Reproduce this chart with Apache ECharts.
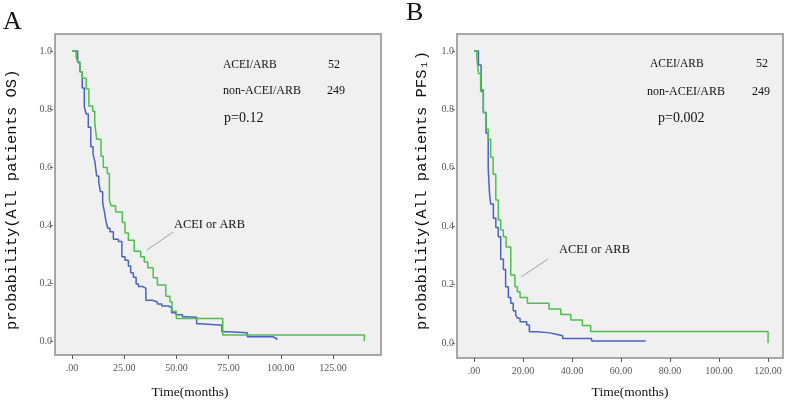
<!DOCTYPE html>
<html><head><meta charset="utf-8">
<script src="https://cdn.jsdelivr.net/npm/echarts@6/dist/echarts.min.js"></script>
<style>html,body{margin:0;padding:0;background:#fff;} #c{width:787px;height:401px;}</style>
</head><body><div id="c"></div>
<script>
// ---- Panel A: overall survival (OS) ----
const osAceiTime = [0, 1.9, 2.7, 3.8, 4.9, 6.8, 8.1, 9.9, 10.9, 11.8, 13.9, 15.0, 16.9, 17.9, 18.7, 20.9, 24.1, 25.4, 27.0, 29.8, 32.9, 34.6, 36.3, 38.9, 40.9, 44.9, 46.9, 47.9, 50.0, 72.2, 140];
const osAceiSurv = [1.0, 0.981, 0.963, 0.929, 0.906, 0.869, 0.811, 0.793, 0.754, 0.696, 0.637, 0.599, 0.578, 0.486, 0.467, 0.445, 0.409, 0.373, 0.348, 0.310, 0.291, 0.273, 0.253, 0.218, 0.193, 0.155, 0.136, 0.103, 0.078, 0.021, 0];
const osNonTime = [0, 2.7, 3.0, 3.8, 4.9, 5.9, 6.8, 7.8, 9.0, 10.1, 11.0, 11.8, 12.8, 13.6, 14.7, 15.5, 16.3, 17.1, 18.2, 19.8, 22.2, 23.9, 25.4, 27.0, 28.1, 29.4, 30.7, 31.8, 33.9, 35.4, 38.5, 40.9, 43.0, 46.1, 47.7, 49.8, 52.9, 54.9, 59.7, 61.8, 71.8, 74.9, 84.0, 96.1, 98.0];
const osNonSurv = [1.0, 0.963, 0.957, 0.929, 0.873, 0.808, 0.783, 0.737, 0.670, 0.644, 0.618, 0.569, 0.549, 0.515, 0.476, 0.447, 0.412, 0.389, 0.377, 0.351, 0.343, 0.291, 0.279, 0.259, 0.236, 0.220, 0.197, 0.188, 0.182, 0.141, 0.135, 0.128, 0.121, 0.116, 0.098, 0.091, 0.084, 0.082, 0.060, 0.055, 0.032, 0.029, 0.015, 0.009, 0.004];

// ---- Panel B: progression-free survival (PFS1) ----
const pfsAceiTime = [0, 1.1, 1.8, 2.7, 3.8, 4.9, 5.8, 6.8, 7.8, 8.9, 9.9, 10.9, 12.0, 13.1, 15.0, 16.7, 17.7, 18.8, 21.8, 30.6, 35.4, 39.5, 44.2, 47.6, 120];
const pfsAceiSurv = [1.0, 0.981, 0.923, 0.861, 0.789, 0.732, 0.698, 0.636, 0.578, 0.490, 0.421, 0.387, 0.364, 0.329, 0.233, 0.193, 0.176, 0.156, 0.136, 0.117, 0.098, 0.079, 0.060, 0.040, 0];
const pfsNonTime = [0, 1.8, 2.9, 3.8, 4.9, 5.8, 6.3, 6.8, 7.9, 8.9, 9.9, 10.9, 12.0, 12.9, 14.0, 15.0, 16.0, 17.0, 17.8, 18.8, 21.5, 22.6, 25.8, 31.0, 33.1, 36.2, 48.0, 70.1];
const pfsNonSurv = [1.0, 0.952, 0.866, 0.789, 0.718, 0.598, 0.515, 0.476, 0.427, 0.396, 0.364, 0.287, 0.252, 0.193, 0.156, 0.136, 0.111, 0.096, 0.085, 0.073, 0.062, 0.039, 0.035, 0.031, 0.025, 0.016, 0.007, 0.007];

// ---- tick labels ----
const osTicksX = [0, 25, 50, 75, 100, 125];
const pfsTicksX = [0, 20, 40, 60, 80, 100, 120];
const probTicks = [0, 0.2, 0.4, 0.6, 0.8, 1.0];

const groupCounts = [['ACEI/ARB', '52'], ['non-ACEI/ARB', '249']];
const pValues = ['p=0.12', 'p=0.002'];

function pairs(t, s) { return t.map((v, i) => [v, s[i]]); }

const serif = '"Liberation Serif", "DejaVu Serif", serif';
const mono = '"Liberation Mono", "DejaVu Sans Mono", monospace';
const GREEN = '#4cc04c';
const BLUE = '#4a62c6';

function xAxisCfg(gi, min, max, ticks) {
  return {
    type: 'value', gridIndex: gi, min: min, max: max, position: 'bottom',
    axisLine: { show: false, onZero: false }, splitLine: { show: false },
    axisTick: { show: true, length: 4, lineStyle: { color: '#555' }, customValues: ticks },
    axisLabel: { customValues: ticks, margin: 8, fontFamily: serif, fontSize: 10, color: '#555',
      formatter: v => (v === 0 ? '.00' : v.toFixed(2)) }
  };
}
function yAxisCfg(gi, min, max) {
  return {
    type: 'value', gridIndex: gi, min: min, max: max, offset: 2, position: 'left',
    axisLine: { show: false, onZero: false }, splitLine: { show: false },
    axisTick: { show: true, length: 3, lineStyle: { color: '#777' }, customValues: probTicks },
    axisLabel: { customValues: probTicks, margin: 1, fontFamily: serif, fontSize: 10, color: '#555',
      formatter: v => v.toFixed(1) }
  };
}
function kmSeries(xi, data, color, z, mark) {
  const s = {
    type: 'line', xAxisIndex: xi, yAxisIndex: xi, data: data, step: 'end',
    symbol: 'none', silent: true, z: z,
    lineStyle: { color: color, width: 1.5 }
  };
  if (mark) {
    s.markLine = { silent: true, symbol: ['none', 'none'], label: { show: false },
      lineStyle: { color: '#a0a0a0', width: 1, type: 'solid' }, animation: false,
      data: [[{ coord: mark[0] }, { coord: mark[1] }]] };
  }
  return s;
}
function txt(x, y, text, size, family, opts) {
  return Object.assign({ type: 'text', x: x, y: y, silent: true,
    style: { text: text, font: size + 'px ' + family, fill: '#111', align: 'left', verticalAlign: 'middle' } }, opts || {});
}
function ctxt(x, y, text, size, family) {
  return { type: 'text', x: x, y: y, silent: true,
    style: { text: text, font: size + 'px ' + family, fill: '#111', align: 'center', verticalAlign: 'middle' } };
}

const chart = echarts.init(document.getElementById('c'), null, { renderer: 'canvas' });
chart.setOption({
  animation: false,
  backgroundColor: '#ffffff',
  grid: [
    { left: 55, top: 34, width: 326, height: 321, show: true, backgroundColor: '#f0f0f0', borderColor: '#8c8c8c', borderWidth: 1.5 },
    { left: 457, top: 34, width: 326, height: 324, show: true, backgroundColor: '#f0f0f0', borderColor: '#8c8c8c', borderWidth: 1.5 }
  ],
  xAxis: [ xAxisCfg(0, -8.14, 148.0, osTicksX), xAxisCfg(1, -6.94, 126.1, pfsTicksX) ],
  yAxis: [ yAxisCfg(0, -0.048, 1.059), yAxisCfg(1, -0.051, 1.058) ],
  series: [
    kmSeries(0, pairs(osNonTime, osNonSurv), BLUE, 2),
    kmSeries(0, pairs(osAceiTime, osAceiSurv), GREEN, 3, [[48.4, 0.376], [35.9, 0.314]]),
    kmSeries(1, pairs(pfsNonTime, pfsNonSurv), BLUE, 2),
    kmSeries(1, pairs(pfsAceiTime, pfsAceiSurv), GREEN, 3, [[30.2, 0.288], [19.2, 0.226]])
  ],
  graphic: [
    txt(3, 22, 'A', 26, serif),
    txt(406, 13, 'B', 26, serif),
    txt(12, 330, 'probability(All patients OS)', 15.5, mono, { rotation: Math.PI / 2 }),
    txt(422, 330, 'probability(All patients PFS\u2081)', 15.5, mono, { rotation: Math.PI / 2 }),
    ctxt(190, 392, 'Time(months)', 13.5, serif),
    ctxt(630, 392, 'Time(months)', 13.5, serif),
    txt(223, 65, groupCounts[0][0], 11.5, serif),
    txt(328, 65, groupCounts[0][1], 12, serif),
    txt(223, 90.5, groupCounts[1][0], 12, serif),
    txt(327, 90.5, groupCounts[1][1], 12, serif),
    txt(224, 118, pValues[0], 14, serif),
    txt(174, 224.5, 'ACEI or ARB', 12.4, serif),
    txt(650, 64, groupCounts[0][0], 11.5, serif),
    txt(756, 64, groupCounts[0][1], 12, serif),
    txt(647, 92, groupCounts[1][0], 12, serif),
    txt(752, 92, groupCounts[1][1], 12, serif),
    txt(658, 118, pValues[1], 14, serif),
    txt(559, 250, 'ACEI or ARB', 12.4, serif)
  ]
});
</script>
</body></html>
